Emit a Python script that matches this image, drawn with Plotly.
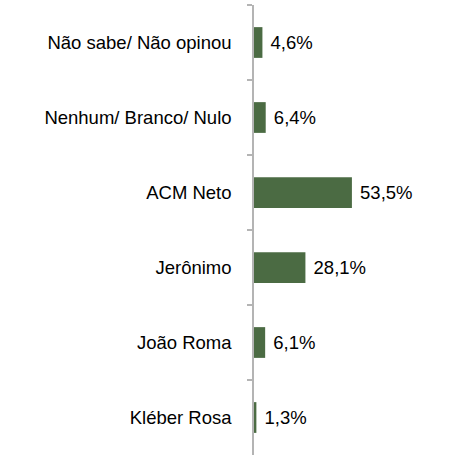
"""
Intenção de voto - gráfico de barras horizontais recriado com Plotly.
"""
import plotly.graph_objects as go

# --- Dados ---
CATEGORIES = [
    "Não sabe/ Não opinou",
    "Nenhum/ Branco/ Nulo",
    "ACM Neto",
    "Jerônimo",
    "João Roma",
    "Kléber Rosa",
]
VALUES = [4.6, 6.4, 53.5, 28.1, 6.1, 1.3]

BAR_COLOR = "#4b6b43"
AXIS_COLOR = "#b4b4b4"
FONT = "Liberation Sans, Arial, sans-serif"


def build_chart():
    fig = go.Figure()
    fig.add_trace(go.Bar(
        x=VALUES,
        y=CATEGORIES,
        orientation="h",
        marker=dict(color=BAR_COLOR, line=dict(width=0)),
        texttemplate="\u00a0%{x:.1f}%",
        textposition="outside",
        textfont=dict(family=FONT, size=18.5, color="#000000"),
        cliponaxis=False,
        width=0.41,
    ))
    fig.update_layout(
        width=451,
        height=460,
        margin=dict(l=254, r=14, t=5, b=5, autoexpand=False),
        paper_bgcolor="white",
        plot_bgcolor="white",
        separators=",.",
        showlegend=False,
        font=dict(family=FONT, size=18.5, color="#000000"),
    )
    fig.update_xaxes(
        range=[0, 100],
        visible=False,
        showgrid=False,
        zeroline=False,
        automargin=False,
    )
    fig.update_yaxes(
        type="category",
        autorange="reversed",
        automargin=False,
        showline=True,
        linecolor=AXIS_COLOR,
        linewidth=1.5,
        ticks="outside",
        ticklen=5,
        tickwidth=1.5,
        tickcolor=AXIS_COLOR,
        tickson="boundaries",
        ticklabelstandoff=17,
        showgrid=False,
        zeroline=False,
    )
    return fig


def main():
    fig = build_chart()
    # drop the browser's default 8px body margin so the chart sits at (0, 0)
    fig.write_html(
        "out.html",
        config={"displayModeBar": False},
        post_script="document.body.style.margin='0';",
    )


if __name__ == "__main__":
    main()
